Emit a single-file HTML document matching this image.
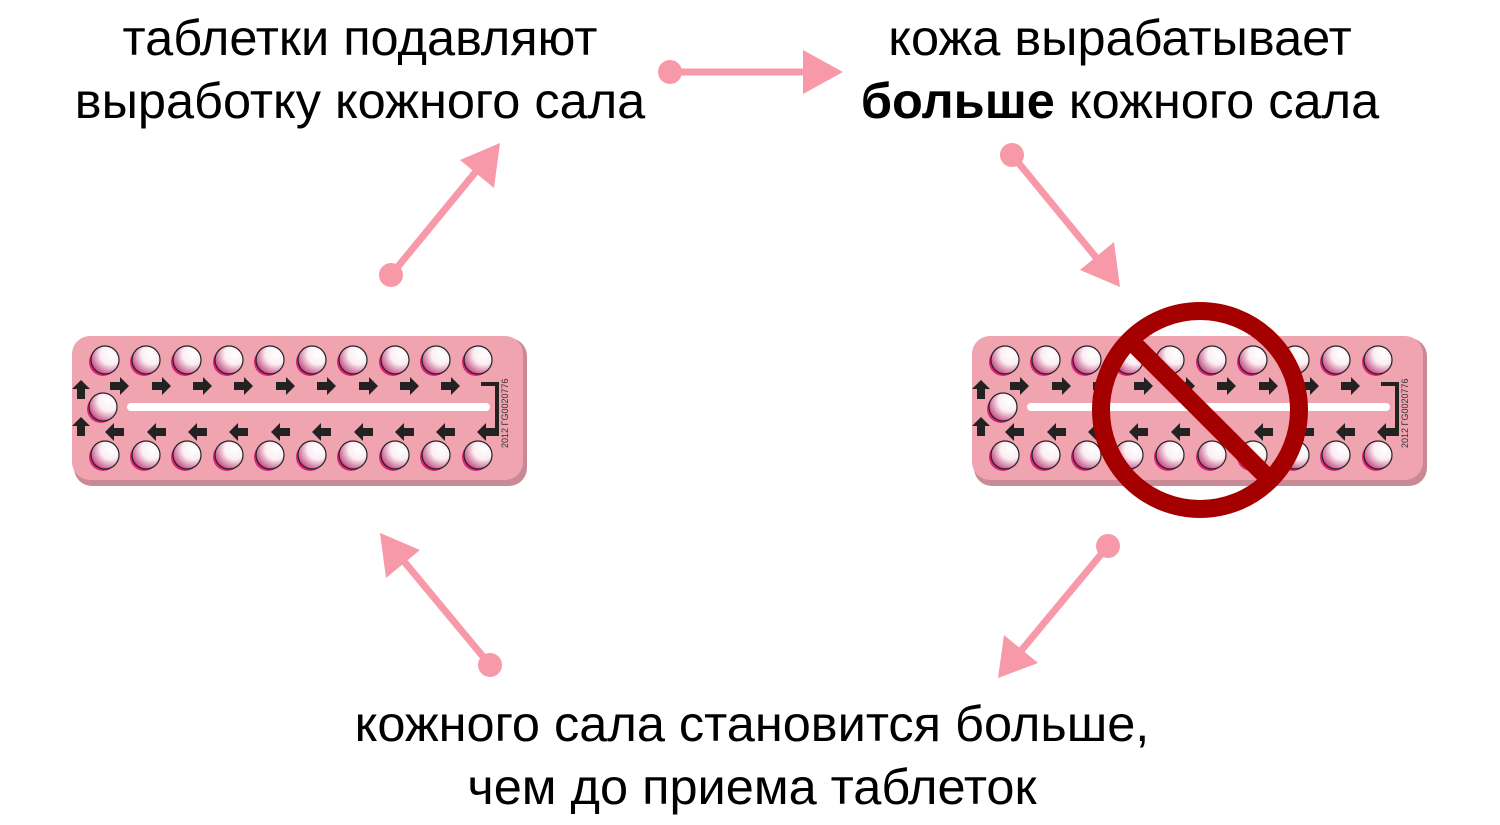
<!DOCTYPE html>
<html><head><meta charset="utf-8"><style>
html,body{margin:0;padding:0;background:#fff;}
svg{display:block;}
text{font-family:"Liberation Sans",sans-serif;}
</style></head><body>
<svg width="1500" height="825" viewBox="0 0 1500 825" xmlns="http://www.w3.org/2000/svg">
<defs>
<radialGradient id="pg" cx="0.7" cy="0.3" r="0.8">
<stop offset="0" stop-color="#ffffff"/><stop offset="0.45" stop-color="#fbeef2"/><stop offset="1" stop-color="#c0407a"/>
</radialGradient>
<g id="pill"><circle cx="-2" cy="2" r="14" fill="#e0207a"/><circle r="14" fill="url(#pg)" stroke="#222" stroke-width="1.2"/></g>
<g id="ar"><path d="M-9,-4 h10 v-5 l9,9 l-9,9 v-5 h-10z" fill="#222"/></g>
<g id="row">
<use href="#pill" x="105" y="0"/><use href="#pill" x="146" y="0"/><use href="#pill" x="187" y="0"/><use href="#pill" x="229" y="0"/><use href="#pill" x="270" y="0"/><use href="#pill" x="312" y="0"/><use href="#pill" x="353" y="0"/><use href="#pill" x="395" y="0"/><use href="#pill" x="436" y="0"/><use href="#pill" x="478" y="0"/>
</g>
<g id="pack">
<rect x="74" y="338" width="453" height="148" rx="18" fill="#c98a95"/>
<rect x="72" y="336" width="451" height="144" rx="18" fill="#efa4b0"/>
<rect x="127" y="403" width="363" height="8" rx="4" fill="#fff"/>
<use href="#row" y="360"/><use href="#row" y="455"/>
<use href="#pill" x="103" y="407"/>
<g transform="translate(0,386)">
<use href="#ar" x="119"/><use href="#ar" x="161"/><use href="#ar" x="202"/><use href="#ar" x="243"/><use href="#ar" x="285"/><use href="#ar" x="326"/><use href="#ar" x="368"/><use href="#ar" x="409"/><use href="#ar" x="450"/>
</g>
<g transform="translate(0,432) scale(-1,1)">
<use href="#ar" x="-115"/><use href="#ar" x="-157"/><use href="#ar" x="-198"/><use href="#ar" x="-239"/><use href="#ar" x="-281"/><use href="#ar" x="-322"/><use href="#ar" x="-364"/><use href="#ar" x="-405"/><use href="#ar" x="-446"/><use href="#ar" x="-487"/>
</g>
<use href="#ar" transform="translate(81,390) rotate(-90)"/>
<use href="#ar" transform="translate(81,427) rotate(-90)"/>
<path d="M481,384 h16 v50 h-12" fill="none" stroke="#222" stroke-width="4"/>
<text transform="translate(508,448) rotate(-90)" font-size="9" fill="#333">2012 ΓG0020776</text>
</g>
</defs>
<use href="#pack"/>
<use href="#pack" x="900"/>
<circle cx="1200" cy="410" r="99" fill="none" stroke="#a50000" stroke-width="18"/>
<line x1="1130" y1="340" x2="1270" y2="480" stroke="#a50000" stroke-width="18"/>
<g fill="#f799a8" stroke="#f799a8" stroke-width="7">
<circle cx="670" cy="72" r="12" stroke="none"/><line x1="670" y1="72" x2="810" y2="72"/><path d="M843,72 L803,50 L803,94Z" stroke="none"/>
<circle cx="391" cy="275" r="12" stroke="none"/><line x1="391" y1="275" x2="478" y2="169"/><path d="M500,143 L460,160 L494,188Z" stroke="none"/>
<circle cx="1012" cy="155" r="12" stroke="none"/><line x1="1012" y1="155" x2="1099" y2="261"/><path d="M1120,287 L1080,270 L1114,242Z" stroke="none"/>
<circle cx="1108" cy="546" r="12" stroke="none"/><line x1="1108" y1="546" x2="1020" y2="652"/><path d="M998,678 L1004,635 L1038,663Z" stroke="none"/>
<circle cx="490" cy="665" r="12" stroke="none"/><line x1="490" y1="665" x2="402" y2="559"/><path d="M380,533 L420,550 L386,578Z" stroke="none"/>
</g>
<g font-size="50.5" fill="#000" text-anchor="middle">
<text x="360" y="55">таблетки подавляют</text>
<text x="360" y="118">выработку кожного сала</text>
<text x="1120" y="55">кожа вырабатывает</text>
<text x="1120" y="118"><tspan font-weight="bold">больше</tspan> кожного сала</text>
<text x="752" y="741">кожного сала становится больше,</text>
<text x="752" y="804">чем до приема таблеток</text>
</g>
</svg>
</body></html>
